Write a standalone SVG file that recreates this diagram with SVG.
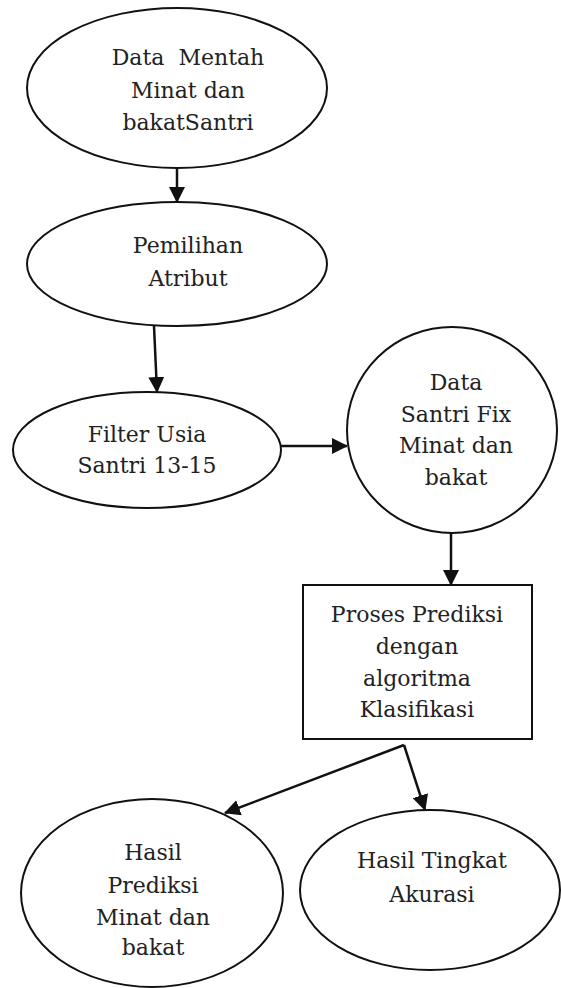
<svg xmlns="http://www.w3.org/2000/svg" width="561" height="988" viewBox="0 0 561 988">
<style>
.shape{fill:#fff;stroke:#111;stroke-width:2}
.lbl{font-family:"DejaVu Serif","Liberation Serif",serif;font-size:22px;fill:#222;text-anchor:middle}
.conn{stroke:#111;stroke-width:2.5;fill:none;marker-end:url(#ah)}
</style>
<defs>
<marker id="ah" viewBox="0 0 16 16" refX="15" refY="8" markerWidth="16" markerHeight="16" markerUnits="userSpaceOnUse" orient="auto">
<path d="M0 0 L16 8 L0 16 Z" fill="#111"/>
</marker>
</defs>
<rect width="561" height="988" fill="#fff"/>
<g id="n1">
<ellipse class="shape" cx="177" cy="88" rx="150" ry="80"/>
<text class="lbl" xml:space="preserve"><tspan x="188" y="65">Data  Mentah</tspan><tspan x="188" y="98">Minat dan</tspan><tspan x="188" y="130">bakatSantri</tspan></text>
</g>
<g id="n2">
<ellipse class="shape" cx="177" cy="264" rx="150" ry="62"/>
<text class="lbl"><tspan x="188" y="253">Pemilihan</tspan><tspan x="188" y="286">Atribut</tspan></text>
</g>
<g id="n3">
<ellipse class="shape" cx="147" cy="450" rx="134" ry="58"/>
<text class="lbl"><tspan x="147" y="442">Filter Usia</tspan><tspan x="147" y="473">Santri 13-15</tspan></text>
</g>
<g id="n4">
<ellipse class="shape" cx="452" cy="430" rx="105" ry="103"/>
<text class="lbl"><tspan x="456" y="390">Data</tspan><tspan x="456" y="422">Santri Fix</tspan><tspan x="456" y="453">Minat dan</tspan><tspan x="456" y="485">bakat</tspan></text>
</g>
<g id="n5">
<rect class="shape" x="303" y="585" width="229" height="154"/>
<text class="lbl"><tspan x="417" y="622">Proses Prediksi</tspan><tspan x="417" y="654">dengan</tspan><tspan x="417" y="686">algoritma</tspan><tspan x="417" y="717">Klasifikasi</tspan></text>
</g>
<g id="n6">
<ellipse class="shape" cx="152" cy="893" rx="131" ry="94"/>
<text class="lbl"><tspan x="153" y="860">Hasil</tspan><tspan x="153" y="893">Prediksi</tspan><tspan x="153" y="925">Minat dan</tspan><tspan x="153" y="955">bakat</tspan></text>
</g>
<g id="n7">
<ellipse class="shape" cx="430" cy="890" rx="130" ry="80"/>
<text class="lbl"><tspan x="432" y="868">Hasil Tingkat</tspan><tspan x="432" y="902">Akurasi</tspan></text>
</g>
<g id="connectors">
<path class="conn" d="M177 168 L177 202"/>
<path class="conn" d="M154 326 L157 392"/>
<path class="conn" d="M281 446 L347 446"/>
<path class="conn" d="M451 533 L451 585"/>
<path class="conn" d="M404 745 L225 813"/>
<path class="conn" d="M404 745 L425 810"/>
</g>
</svg>
